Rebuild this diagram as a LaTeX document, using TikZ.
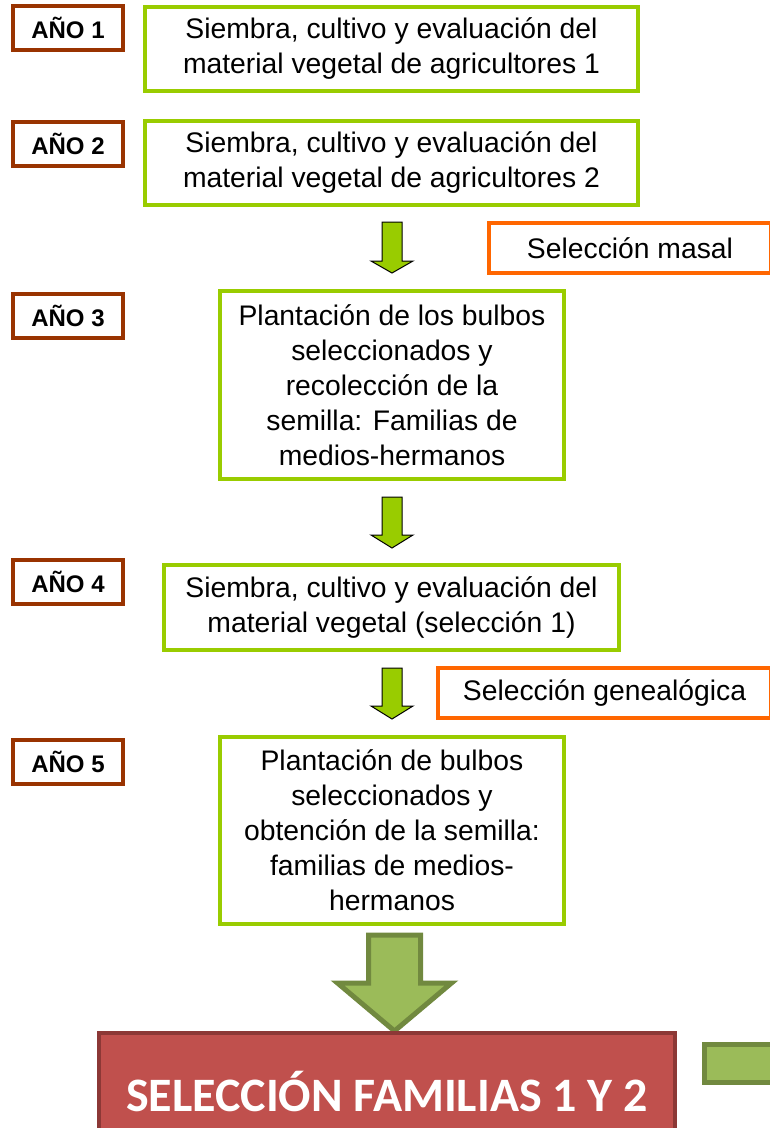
\documentclass[tikz,border=0pt]{standalone}
\usepackage{fontspec}
\setmainfont{Liberation Sans}
\newfontfamily\calib{Carlito}
\definecolor{yearc}{HTML}{993300}
\definecolor{grn}{HTML}{99CC00}
\definecolor{orng}{HTML}{FF6600}
\definecolor{olivef}{HTML}{9BBB59}
\definecolor{olived}{HTML}{71893F}
\definecolor{redf}{HTML}{C0504D}
\definecolor{redd}{HTML}{8C3836}
\newcommand{\blkarrow}[7]{%
  \draw[#1] ({#2-#5},#3) -- ({#2+#5},#3) -- ({#2+#5},#7) -- ({#2+#6},#7) -- (#2,#4) -- ({#2-#6},#7) -- ({#2-#5},#7) -- cycle;}
\tikzset{
  yearbox/.style={draw=yearc, line width=4pt, fill=white, minimum width=110pt, minimum height=44pt, inner sep=0pt, font=\fontsize{24}{28}\selectfont\bfseries},
  stagebox/.style={draw=grn, line width=4pt, fill=white, inner sep=0pt, align=center, font=\fontsize{28.3}{35}\selectfont},
  selbox/.style={draw=orng, line width=4pt, fill=white, inner sep=0pt, minimum height=50pt, font=\fontsize{28.3}{34}\selectfont},
  smallarrow/.style={fill=grn, draw=black, line width=1pt, line join=miter},
  bigarrow/.style={fill=olivef, draw=olived, line width=5pt, line join=miter},
}
\begin{document}
\begin{tikzpicture}[x=1pt,y=-1pt]
\useasboundingbox (0,0) rectangle (769,1128);
% years
\node[yearbox] (a1) at (68,28) {AÑO 1};
\node[yearbox] (a2) at (68,144) {AÑO 2};
\node[yearbox] (a3) at (68,316) {AÑO 3};
\node[yearbox] (a4) at (68,582) {AÑO 4};
\node[yearbox] (a5) at (68,762) {AÑO 5};
% stages
\node[stagebox, minimum width=493pt, minimum height=84pt] (b1) at (391.5,49)
  {Siembra, cultivo y evaluación del\\material vegetal de agricultores 1};
\node[stagebox, minimum width=493pt, minimum height=84pt] (b2) at (391.5,163)
  {Siembra, cultivo y evaluación del\\material vegetal de agricultores 2};
\node[stagebox, minimum width=344pt, minimum height=188pt] (b3) at (392,385)
  {Plantación de los bulbos\\seleccionados y\\recolección de la\\semilla: Familias de\\medios-hermanos};
\node[stagebox, minimum width=455pt, minimum height=85pt] (b4) at (391.5,607.5)
  {Siembra, cultivo y evaluación del\\material vegetal (selección 1)};
\node[stagebox, minimum width=344pt, minimum height=187pt] (b5) at (392,830.5)
  {Plantación de bulbos\\seleccionados y\\obtención de la semilla:\\familias de medios-\\hermanos};
% selection labels
\node[selbox, minimum width=282pt] (m1) at (630,248) {Selección masal};
\node[selbox, minimum width=333pt] (m2) at (604.5,693) {Selección genealógica};
% small arrows
\blkarrow{smallarrow}{392}{222}{273}{10}{21}{261}
\blkarrow{smallarrow}{392}{497}{548}{10}{21}{535}
\blkarrow{smallarrow}{392}{668}{719}{10}{21}{706}
% big arrow
\blkarrow{bigarrow}{394.5}{935}{1031}{26}{57}{983}
% result
\node[draw=redd, line width=4pt, fill=redf, minimum width=576pt, minimum height=116pt, inner sep=0pt,
  text=white, font=\calib\fontsize{48}{56}\selectfont\bfseries] (res) at (387,1091) {SELECCIÓN FAMILIAS 1 Y 2};
\node[draw=olived, line width=5pt, fill=olivef, minimum width=98pt, minimum height=38pt, inner sep=0pt] (ext) at (753,1063) {};
\end{tikzpicture}
\end{document}
